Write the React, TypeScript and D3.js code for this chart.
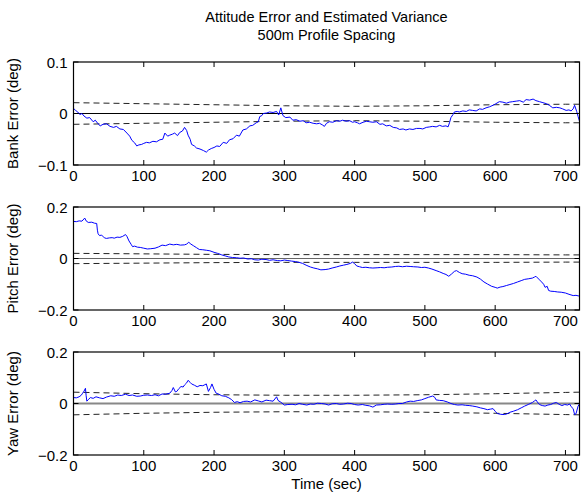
import React from 'react'
import * as d3 from 'd3'

// readings of the three error traces, [time sec, error deg]
const bankData: [number, number][] = [
  [0, 0.010], [3, 0.006], [6, 0.003], [9, -0.002], [12, 0.000], [15, -0.005], [19, -0.009], [23, -0.008], [28, -0.016], [31, -0.013],
  [35, -0.020], [38, -0.024], [42, -0.021], [47, -0.020], [52, -0.025], [57, -0.027], [61, -0.025], [66, -0.030], [71, -0.031], [76, -0.038],
  [80, -0.044], [83, -0.052], [87, -0.057], [90, -0.063], [93, -0.061], [97, -0.060], [100, -0.058], [104, -0.056], [108, -0.057], [113, -0.054],
  [118, -0.055], [123, -0.051], [127, -0.050], [130, -0.038], [134, -0.044], [137, -0.042], [141, -0.040], [144, -0.038], [148, -0.043], [151, -0.037],
  [155, -0.034], [158, -0.027], [161, -0.033], [163, -0.042], [166, -0.050], [168, -0.060], [172, -0.063], [175, -0.067], [180, -0.069], [185, -0.072],
  [189, -0.075], [192, -0.071], [196, -0.068], [200, -0.066], [204, -0.063], [208, -0.064], [213, -0.056], [218, -0.058], [222, -0.051], [227, -0.049],
  [232, -0.042], [236, -0.044], [241, -0.032], [246, -0.030], [251, -0.024], [255, -0.023], [260, -0.018], [263, -0.016], [265, -0.006], [268, -0.004],
  [270, 0.000], [275, 0.001], [279, 0.003], [284, 0.002], [289, 0.004], [292, -0.003], [295, 0.011], [298, -0.004], [302, -0.008], [308, -0.007],
  [312, -0.013], [317, -0.012], [322, -0.015], [327, -0.014], [331, -0.018], [336, -0.017], [341, -0.019], [346, -0.020], [350, -0.019], [354, -0.022],
  [357, -0.025], [360, -0.019], [364, -0.016], [369, -0.017], [374, -0.014], [379, -0.015], [383, -0.013], [388, -0.015], [393, -0.014], [397, -0.017],
  [400, -0.016], [404, -0.018], [407, -0.020], [412, -0.017], [417, -0.015], [421, -0.016], [426, -0.017], [431, -0.016], [436, -0.021], [440, -0.020],
  [445, -0.024], [450, -0.023], [455, -0.027], [460, -0.028], [464, -0.031], [469, -0.030], [473, -0.032], [478, -0.030], [483, -0.031], [488, -0.029],
  [493, -0.029], [497, -0.030], [502, -0.027], [507, -0.026], [511, -0.025], [516, -0.026], [521, -0.023], [525, -0.025], [530, -0.024], [533, -0.026],
  [535, -0.018], [537, -0.008], [540, -0.002], [542, 0.003], [546, 0.004], [549, 0.003], [554, 0.005], [559, 0.004], [563, 0.007], [568, 0.006],
  [573, 0.005], [578, 0.009], [582, 0.008], [587, 0.011], [592, 0.013], [597, 0.016], [601, 0.019], [606, 0.023], [611, 0.022], [616, 0.020],
  [620, 0.022], [625, 0.023], [630, 0.024], [635, 0.025], [640, 0.022], [644, 0.027], [649, 0.026], [654, 0.028], [658, 0.025], [663, 0.023],
  [668, 0.021], [673, 0.019], [677, 0.016], [682, 0.011], [687, 0.012], [692, 0.011], [696, 0.009], [701, 0.006], [705, 0.007], [708, 0.005],
  [711, 0.009], [713, 0.016], [716, 0.004], [718, -0.006], [720, -0.015]
]

const pitchData: [number, number][] = [
  [0, 0.144], [4, 0.143], [8, 0.146], [12, 0.145], [16, 0.157], [18, 0.146], [21, 0.140], [26, 0.141], [30, 0.137], [33, 0.136],
  [34, 0.110], [35, 0.096], [37, 0.089], [40, 0.091], [44, 0.080], [47, 0.078], [51, 0.080], [55, 0.081], [58, 0.079], [62, 0.083],
  [66, 0.082], [70, 0.086], [74, 0.093], [76, 0.086], [79, 0.068], [82, 0.055], [84, 0.046], [87, 0.048], [91, 0.044], [95, 0.043],
  [100, 0.040], [105, 0.037], [110, 0.038], [116, 0.040], [121, 0.045], [126, 0.052], [131, 0.050], [137, 0.056], [142, 0.053], [147, 0.055],
  [152, 0.052], [158, 0.053], [161, 0.056], [164, 0.063], [167, 0.056], [171, 0.049], [175, 0.042], [179, 0.035], [184, 0.034], [189, 0.032],
  [194, 0.030], [200, 0.024], [205, 0.020], [211, 0.014], [216, 0.010], [221, 0.006], [226, 0.004], [232, 0.003], [237, 0.001], [242, 0.002],
  [248, -0.002], [253, -0.001], [258, -0.005], [263, -0.006], [268, -0.003], [274, -0.004], [279, -0.007], [284, -0.005], [290, -0.008], [295, -0.009],
  [300, -0.006], [305, -0.008], [310, -0.010], [316, -0.012], [321, -0.015], [326, -0.019], [331, -0.026], [337, -0.033], [342, -0.037], [347, -0.040],
  [352, -0.044], [358, -0.043], [363, -0.041], [368, -0.037], [374, -0.033], [379, -0.029], [384, -0.026], [389, -0.023], [394, -0.019], [397, -0.014],
  [400, -0.020], [403, -0.029], [407, -0.032], [411, -0.035], [416, -0.034], [421, -0.036], [426, -0.037], [432, -0.036], [437, -0.035], [442, -0.036],
  [447, -0.034], [453, -0.033], [458, -0.031], [463, -0.030], [468, -0.032], [474, -0.030], [479, -0.031], [484, -0.032], [490, -0.033], [495, -0.035],
  [500, -0.034], [505, -0.037], [510, -0.041], [516, -0.047], [521, -0.052], [526, -0.058], [530, -0.062], [534, -0.069], [538, -0.060], [542, -0.050],
  [545, -0.047], [549, -0.054], [553, -0.059], [558, -0.061], [563, -0.065], [568, -0.067], [574, -0.072], [579, -0.080], [584, -0.091], [589, -0.099],
  [595, -0.108], [600, -0.112], [603, -0.115], [607, -0.111], [611, -0.109], [616, -0.105], [621, -0.101], [626, -0.097], [632, -0.091], [637, -0.086],
  [642, -0.081], [647, -0.079], [653, -0.076], [656, -0.072], [658, -0.069], [662, -0.080], [666, -0.091], [669, -0.100], [671, -0.112], [674, -0.108],
  [676, -0.124], [679, -0.127], [684, -0.128], [689, -0.130], [694, -0.131], [700, -0.134], [705, -0.139], [711, -0.144], [715, -0.143], [718, -0.145],
  [720, -0.146]
]

const yawData: [number, number][] = [
  [0, 0.023], [4, 0.022], [8, 0.026], [11, 0.032], [13, 0.040], [15, 0.048], [17, 0.059], [18, 0.030], [19, 0.009], [21, 0.015],
  [24, 0.023], [28, 0.020], [32, 0.026], [37, 0.022], [42, 0.019], [47, 0.025], [53, 0.030], [58, 0.028], [63, 0.033], [68, 0.031],
  [74, 0.036], [79, 0.031], [84, 0.033], [90, 0.028], [95, 0.029], [100, 0.032], [105, 0.033], [111, 0.031], [116, 0.034], [121, 0.030],
  [126, 0.037], [131, 0.036], [137, 0.040], [140, 0.050], [142, 0.062], [145, 0.045], [147, 0.047], [150, 0.058], [153, 0.066], [156, 0.064],
  [158, 0.072], [161, 0.080], [163, 0.090], [166, 0.082], [168, 0.076], [172, 0.071], [176, 0.065], [180, 0.070], [184, 0.069], [187, 0.073],
  [189, 0.076], [192, 0.047], [195, 0.062], [197, 0.076], [200, 0.055], [203, 0.040], [207, 0.036], [211, 0.030], [216, 0.028], [221, 0.022],
  [225, 0.015], [229, 0.004], [233, 0.007], [237, 0.003], [242, 0.008], [247, 0.009], [252, 0.006], [258, 0.014], [263, 0.010], [268, 0.006],
  [274, 0.013], [279, 0.011], [284, 0.009], [289, 0.026], [291, 0.012], [295, 0.005], [300, -0.006], [305, -0.004], [311, -0.003], [316, -0.005],
  [321, 0.000], [326, -0.003], [332, -0.006], [337, -0.002], [342, -0.003], [347, 0.001], [353, 0.000], [358, -0.002], [363, -0.006], [368, -0.001],
  [374, 0.000], [379, -0.003], [384, -0.002], [390, 0.001], [395, 0.000], [400, -0.004], [405, -0.006], [411, -0.004], [416, -0.007], [421, -0.009],
  [426, -0.014], [431, -0.006], [437, -0.005], [442, -0.003], [447, -0.002], [453, -0.003], [458, -0.002], [463, 0.000], [468, 0.000], [474, 0.006],
  [479, 0.009], [484, 0.008], [489, 0.011], [495, 0.014], [500, 0.019], [505, 0.024], [511, 0.029], [514, 0.024], [516, 0.014], [521, 0.012],
  [526, 0.011], [532, 0.006], [537, 0.000], [542, -0.004], [547, -0.006], [553, -0.005], [558, -0.007], [563, -0.008], [568, -0.010], [574, -0.013],
  [579, -0.017], [584, -0.020], [589, -0.024], [593, -0.022], [597, -0.020], [600, -0.030], [603, -0.039], [608, -0.042], [613, -0.043], [617, -0.040],
  [621, -0.034], [626, -0.030], [632, -0.024], [637, -0.017], [642, -0.010], [647, -0.004], [653, 0.004], [656, 0.010], [658, 0.014], [660, 0.006],
  [663, -0.004], [667, -0.008], [671, -0.010], [675, -0.006], [679, -0.004], [683, 0.001], [687, 0.004], [691, -0.003], [695, -0.008], [699, -0.004],
  [703, -0.006], [706, -0.002], [708, -0.012], [711, -0.020], [713, -0.043], [715, -0.040], [718, -0.010], [720, -0.002]
]

// estimated 1-sigma bounds (dashed)
const sigmaTimes = [0, 100, 200, 300, 400, 500, 600, 700, 720]
const bankSigma = [0.021, 0.019, 0.017, 0.015, 0.014, 0.015, 0.017, 0.018, 0.018]
const pitchSigma = [0.020, 0.018, 0.016, 0.015, 0.015, 0.015, 0.015, 0.014, 0.014]
const yawSigma = [0.044, 0.038, 0.034, 0.032, 0.032, 0.034, 0.038, 0.043, 0.044]

const timeTicks = [0, 100, 200, 300, 400, 500, 600, 700]
const bankTicks = [-0.1, 0, 0.1]
const angleTicks = [-0.2, 0, 0.2]

const W = 581
const H = 494
const left = 73.5
const right = 579.5
const plotH = 103
const font = '"Liberation Sans", Arial, Helvetica, sans-serif'

const fmt = (v: number) => (v < 0 ? '\u2212' + Math.abs(v) : String(v))

type PanelProps = {
  top: number
  label: string
  data: [number, number][]
  sigma: number[]
  yMax: number
  yTicks: number[]
  zeroColor: string
  zeroWidth: number
}

function Panel({ top, label, data, sigma, yMax, yTicks, zeroColor, zeroWidth }: PanelProps) {
  const x = d3.scaleLinear().domain([0, 720]).range([left, right])
  const y = d3.scaleLinear().domain([-yMax, yMax]).range([top + plotH, top])
  const line = d3.line<[number, number]>().x(d => x(d[0])).y(d => y(d[1]))
  const upper: [number, number][] = sigmaTimes.map((t, i) => [t, sigma[i]])
  const lower: [number, number][] = sigmaTimes.map((t, i) => [t, -sigma[i]])
  const tickLen = 5

  return (
    <g>
      <defs>
        <clipPath id={'clip' + top}>
          <rect x={left} y={top} width={right - left} height={plotH} />
        </clipPath>
      </defs>
      <g clipPath={`url(#clip${top})`}>
        <line x1={left} x2={right} y1={y(0)} y2={y(0)} stroke={zeroColor} strokeWidth={zeroWidth} />
        <path d={line(upper) || ''} fill="none" stroke="#222" strokeWidth={1} strokeDasharray="6,4" />
        <path d={line(lower) || ''} fill="none" stroke="#222" strokeWidth={1} strokeDasharray="6,4" />
        <path d={line(data) || ''} fill="none" stroke="#0000ff" strokeWidth={1} />
      </g>
      {timeTicks.map(t => (
        <g key={t}>
          <line x1={x(t)} x2={x(t)} y1={top} y2={top + tickLen} stroke="#000" />
          <line x1={x(t)} x2={x(t)} y1={top + plotH} y2={top + plotH - tickLen} stroke="#000" />
          <text x={x(t)} y={top + plotH + 15.5} textAnchor="middle" fontSize={15} fontFamily={font}>
            {t}
          </text>
        </g>
      ))}
      {yTicks.map(v => (
        <g key={v}>
          <line x1={left} x2={left + tickLen} y1={y(v)} y2={y(v)} stroke="#000" />
          <line x1={right} x2={right - tickLen} y1={y(v)} y2={y(v)} stroke="#000" />
          <text x={left - 6} y={y(v) + 5.5} textAnchor="end" fontSize={15} fontFamily={font}>
            {fmt(v)}
          </text>
        </g>
      ))}
      <rect x={left} y={top} width={right - left} height={plotH} fill="none" stroke="#000" strokeWidth={1.2} />
      <text
        transform={`translate(18,${top + plotH / 2}) rotate(-90)`}
        textAnchor="middle"
        fontSize={15}
        fontFamily={font}
      >
        {label}
      </text>
    </g>
  )
}

export default function App() {
  const cx = (left + right) / 2
  return (
    <svg width={W} height={H} style={{ position: 'absolute', left: 0, top: 0, background: '#fff' }}>
      <text x={cx} y={22} textAnchor="middle" fontSize={14.5} fontFamily={font}>
        Attitude Error and Estimated Variance
      </text>
      <text x={cx} y={40} textAnchor="middle" fontSize={14.5} fontFamily={font}>
        500m Profile Spacing
      </text>
      <Panel top={62} label="Bank Error (deg)" data={bankData} sigma={bankSigma} yMax={0.1} yTicks={bankTicks} zeroColor="#000" zeroWidth={1} />
      <Panel top={207} label="Pitch Error (deg)" data={pitchData} sigma={pitchSigma} yMax={0.2} yTicks={angleTicks} zeroColor="#666" zeroWidth={1.2} />
      <Panel top={352} label="Yaw Error (deg)" data={yawData} sigma={yawSigma} yMax={0.2} yTicks={angleTicks} zeroColor="#888" zeroWidth={2} />
      <text x={cx} y={489} textAnchor="middle" fontSize={15} fontFamily={font}>
        Time (sec)
      </text>
    </svg>
  )
}
